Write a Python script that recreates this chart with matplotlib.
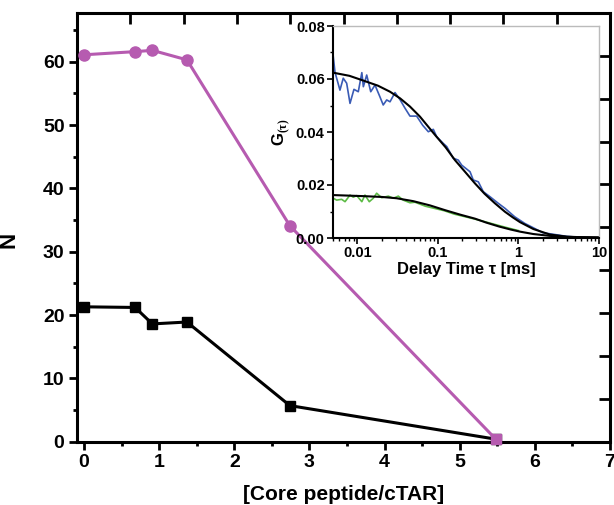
import matplotlib
matplotlib.use("Agg")
import matplotlib.pyplot as plt
from matplotlib.ticker import MultipleLocator, LogLocator, NullFormatter, FixedLocator

plt.rcParams['font.family'] = ['Liberation Sans', 'DejaVu Sans']
plt.rcParams['font.weight'] = 'bold'
plt.rcParams['mathtext.fontset'] = 'custom'
plt.rcParams['mathtext.rm'] = 'Liberation Serif:bold'
plt.rcParams['mathtext.bf'] = 'Liberation Sans:bold'

# ---- main chart data ----
ratio = [0.0, 0.68, 0.91, 1.37, 2.74, 5.48]
n_magenta = [61.1, 61.6, 61.8, 60.3, 34.1, 0.4]
n_black = [21.3, 21.2, 18.6, 18.9, 5.7, 0.4]

# ---- inset data (delay time in ms, G(tau)) ----
tau_blue = [0.00504, 0.00529, 0.0061, 0.0067, 0.00739, 0.00813, 0.0091, 0.0103,
            0.0114, 0.0119, 0.0131, 0.0147, 0.0166, 0.0191, 0.0210, 0.0232,
            0.0255, 0.0294, 0.0341, 0.0391, 0.0451, 0.0546, 0.065, 0.0762,
            0.0879, 0.0968, 0.1168, 0.129, 0.1555, 0.1794, 0.1977, 0.251,
            0.275, 0.318, 0.366, 0.443, 0.562, 0.681, 0.9, 1.2, 1.5, 2.0,
            3.0, 4.0, 5.0]
g_blue = [0.0684, 0.0626, 0.0558, 0.0603, 0.0584, 0.0508, 0.0561, 0.0552,
          0.0624, 0.0571, 0.0615, 0.0552, 0.0577, 0.0533, 0.0502, 0.0521,
          0.0514, 0.0549, 0.0521, 0.0490, 0.0460, 0.0460, 0.0425, 0.0401,
          0.0410, 0.0382, 0.0357, 0.0345, 0.0301, 0.0294, 0.0275, 0.0250,
          0.0219, 0.0212, 0.0175, 0.0156, 0.0131, 0.0112, 0.0080, 0.0055,
          0.0040, 0.0020, 0.0012, 0.0006, 0.0004]

tau_green = [0.00504, 0.00555, 0.0064, 0.00705, 0.00813, 0.00893, 0.00984,
             0.0114, 0.01247, 0.0141, 0.0158, 0.0174, 0.0201, 0.0243, 0.0280,
             0.0323, 0.0372, 0.0451, 0.052, 0.07, 0.09, 0.12, 0.16, 0.2, 0.3,
             0.4, 0.5, 0.7, 1.0]
g_green = [0.0150, 0.0143, 0.0146, 0.0137, 0.0162, 0.0154, 0.0160, 0.0137,
           0.0162, 0.0137, 0.0150, 0.0169, 0.0152, 0.0158, 0.0150, 0.0158,
           0.0143, 0.0133, 0.0135, 0.0120, 0.0112, 0.0103, 0.0090, 0.0083,
           0.0070, 0.0060, 0.0052, 0.0040, 0.0028]

tau_fit_blue = [0.005, 0.008, 0.0119, 0.018, 0.0255, 0.034, 0.0451, 0.060,
                0.0922, 0.125, 0.163, 0.22, 0.289, 0.38, 0.511, 0.681, 0.85,
                1.045, 1.53, 2.46, 3.97, 6.0, 10.0]
g_fit_blue = [0.0624, 0.0612, 0.0594, 0.0575, 0.0552, 0.0527, 0.0496, 0.0458,
              0.0389, 0.0342, 0.0294, 0.0248, 0.0206, 0.0167, 0.0131, 0.0099,
              0.0078, 0.0060, 0.0034, 0.0013, 0.0005, 0.0003, 0.0002]

tau_fit_green = [0.005, 0.0119, 0.02, 0.0308, 0.0496, 0.0799, 0.123, 0.19,
                 0.289, 0.4, 0.58, 0.8, 1.045, 1.53, 2.46, 4.0, 10.0]
g_fit_green = [0.0162, 0.0158, 0.0155, 0.0150, 0.0139, 0.0123, 0.0105, 0.0088,
               0.0073, 0.0058, 0.0043, 0.0032, 0.0024, 0.0015, 0.0008, 0.0004,
               0.0002]

magenta = '#B65BB0'
blue = '#3A5BB5'
green = '#5DBB46'

fig = plt.figure(figsize=(6.14, 5.05), dpi=100)
pos = [77 / 614, (505 - 441.7) / 505, (610 - 77) / 614, (441.7 - 13) / 505]
ax = fig.add_axes(pos)

ax.plot(ratio, n_black, color='black', lw=2.2, marker='s', ms=7.5,
        clip_on=False, zorder=3)
ax.plot(ratio, n_magenta, color=magenta, lw=2.2, zorder=4, clip_on=False)
ax.plot(ratio[:-1], n_magenta[:-1], ls='none', marker='o', ms=8,
        color=magenta, zorder=5, clip_on=False)
ax.plot(ratio[-1:], n_magenta[-1:], ls='none', marker='s', ms=7.5,
        color=magenta, zorder=5, clip_on=False)

ax.set_xlim(-0.093, 7.0)
ax.set_ylim(0, 67.7)
ax.xaxis.set_major_locator(MultipleLocator(1))
ax.xaxis.set_minor_locator(MultipleLocator(0.5))
ax.yaxis.set_major_locator(MultipleLocator(10))
ax.yaxis.set_minor_locator(MultipleLocator(5))
ax.tick_params(which='major', direction='out', length=6, width=2,
               labelsize=14, pad=3, top=False, right=False)
ax.tick_params(which='minor', direction='out', length=3, width=2,
               top=False, right=False)
for lbl in ax.get_xticklabels() + ax.get_yticklabels():
    lbl.set_fontweight('bold')
for s in ax.spines.values():
    s.set_linewidth(2.2)
ax.set_xlabel('[Core peptide/cTAR]', fontsize=15, fontweight='bold', labelpad=10)
ax.set_ylabel('N', fontsize=16, fontweight='bold')
ax.yaxis.set_label_coords(-0.107, 0.47)

# overlay for top/right mirrored ticks
ax2 = fig.add_axes(pos, frameon=False)
ax2.set_xlim(0, 10)
ax2.set_ylim(0, 10)
ax2.xaxis.set_major_locator(MultipleLocator(1))
ax2.yaxis.set_major_locator(MultipleLocator(1))
ax2.tick_params(direction='in', length=8, width=2, top=True, right=True,
                bottom=False, left=False, labelbottom=False, labelleft=False)
ax2.patch.set_alpha(0)

# ---- inset ----
ins = fig.add_axes([333 / 614, (505 - 238) / 505, (599 - 333) / 614, (238 - 26) / 505])
ins.plot(tau_blue, g_blue, color=blue, lw=1.2)
ins.plot(tau_green, g_green, color=green, lw=1.2)
ins.plot(tau_fit_blue, g_fit_blue, color='black', lw=1.5)
ins.plot(tau_fit_green, g_fit_green, color='black', lw=1.5)
ins.set_xscale('log')
ins.set_xlim(0.005, 10)
ins.set_ylim(0, 0.08)
ins.xaxis.set_major_locator(FixedLocator([0.01, 0.1, 1, 10]))
ins.set_xticklabels(['0.01', '0.1', '1', '10'])
ins.xaxis.set_minor_locator(LogLocator(base=10, subs=range(2, 10), numticks=20))
ins.xaxis.set_minor_formatter(NullFormatter())
ins.yaxis.set_major_locator(MultipleLocator(0.02))
ins.yaxis.set_minor_locator(MultipleLocator(0.01))
ins.yaxis.set_major_formatter(plt.FuncFormatter(lambda v, p: f'{v:.2f}'))
ins.tick_params(which='major', direction='out', length=4, width=1.2,
                labelsize=10.5, pad=2)
ins.tick_params(which='minor', direction='out', length=2, width=1)
for lbl in ins.get_xticklabels() + ins.get_yticklabels():
    lbl.set_fontweight('bold')
ins.spines['left'].set_linewidth(1.5)
ins.spines['bottom'].set_linewidth(1.5)
ins.spines['top'].set_color('#BBBBBB')
ins.spines['right'].set_color('#BBBBBB')
ins.spines['top'].set_linewidth(1)
ins.spines['right'].set_linewidth(1)
ins.set_xlabel('Delay Time τ [ms]', fontsize=12, fontweight='bold', labelpad=1)
ins.set_ylabel(r'G$_{\mathrm{(τ)}}$', fontsize=12, fontweight='bold', labelpad=3)

fig.savefig('out.png', dpi=100)
